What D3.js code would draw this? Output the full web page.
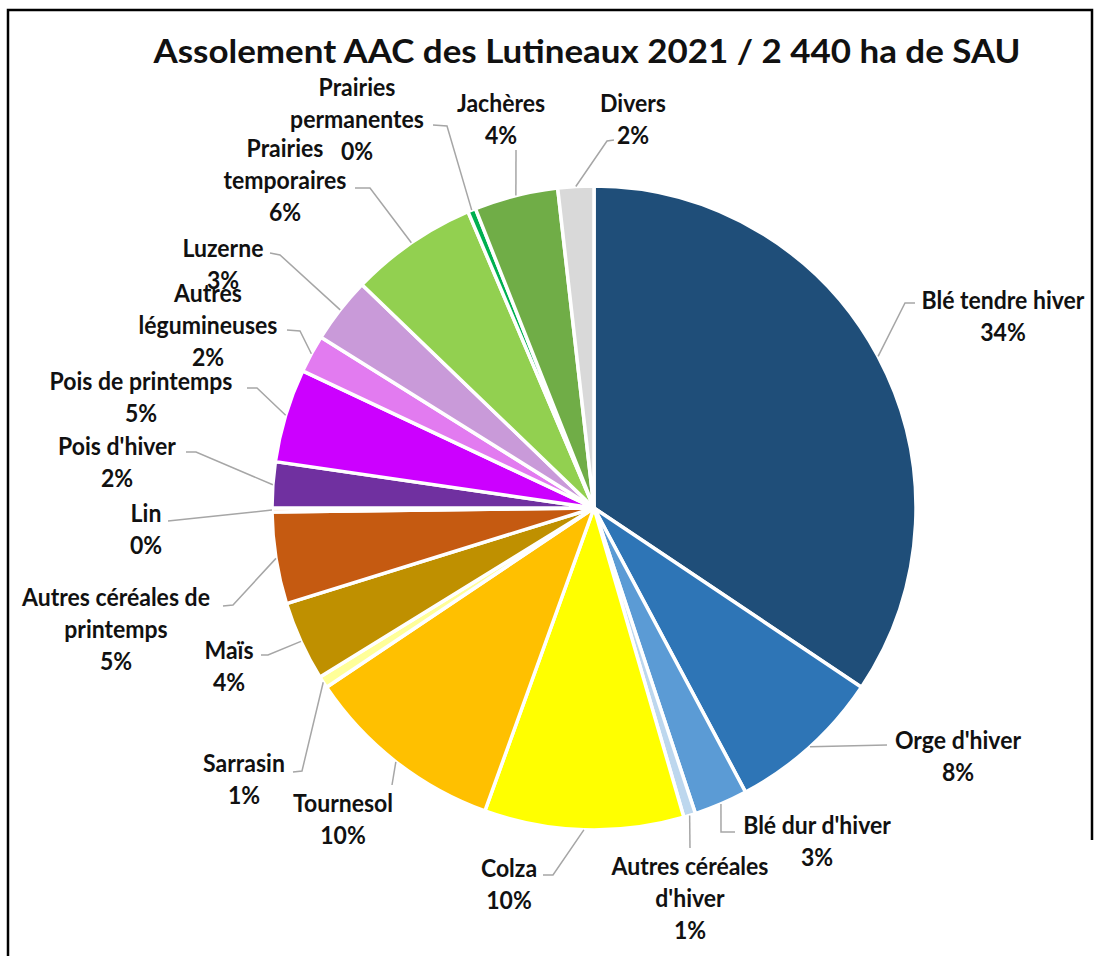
<!DOCTYPE html>
<html>
<head>
<meta charset="utf-8">
<script src="https://cdn.jsdelivr.net/npm/d3@7"></script>
<style>
  html, body { margin: 0; padding: 0; background: #fff; }
  svg { display: block; }
  text { font-family: Lato, "Open Sans", sans-serif; font-weight: bold; fill: #111; }
</style>
</head>
<body>
<svg id="chart" width="1100" height="956"></svg>
<script>
// ---------- data ----------
const title = "Assolement AAC des Lutineaux 2021 / 2 440 ha de SAU";
const categories = [
  "Blé tendre hiver", "Orge d'hiver", "Blé dur d'hiver", "Autres céréales d'hiver",
  "Colza", "Tournesol", "Sarrasin", "Maïs", "Autres céréales de printemps", "Lin",
  "Pois d'hiver", "Pois de printemps", "Autres légumineuses", "Luzerne",
  "Prairies temporaires", "Prairies permanentes", "Jachères", "Divers"
];
const labelLines = [
  ["Blé tendre hiver"], ["Orge d'hiver"], ["Blé dur d'hiver"], ["Autres céréales", "d'hiver"],
  ["Colza"], ["Tournesol"], ["Sarrasin"], ["Maïs"], ["Autres céréales de", "printemps"], ["Lin"],
  ["Pois d'hiver"], ["Pois de printemps"], ["Autres", "légumineuses"], ["Luzerne"],
  ["Prairies", "temporaires"], ["Prairies", "permanentes"], ["Jachères"], ["Divers"]
];
// share of the 2 440 ha, in %
const values = [34.4, 7.8, 2.7, 0.6, 10.0, 10.1, 0.6, 4.0, 4.6, 0.2, 2.3, 4.7, 1.9, 3.3, 6.4, 0.4, 4.2, 1.8];
const colors = [
  "#1F4E79", "#2E75B6", "#5B9BD5", "#BDD7EE", "#FFFF00", "#FFC000", "#FFFF99", "#BF9000",
  "#C55A11", "#F4B183", "#7030A0", "#CC00FF", "#E27BF0", "#C99AD9", "#92D050", "#00B050",
  "#70AD47", "#D9D9D9"
];

// ---------- layout (label anchors & leader bends) ----------
const labelLayout = [
  {x: 1003, y: 300, pts: [[905, 303], [915, 303]]},
  {x: 958,  y: 740, pts: [[887, 745]]},
  {x: 817,  y: 825, pts: [[721, 832], [735, 832]]},
  {x: 690,  y: 866, pts: [[690, 848]]},
  {x: 509,  y: 868, pts: [[553, 875], [543, 875]]},
  {x: 343,  y: 803, pts: [[392, 785]]},
  {x: 244,  y: 763, pts: [[302, 771], [293, 772]]},
  {x: 229,  y: 650, pts: [[268, 655], [261, 655]]},
  {x: 116,  y: 597, pts: [[233, 605], [223, 606]]},
  {x: 146,  y: 513, pts: [[168, 521]]},
  {x: 117,  y: 446, pts: [[196, 452], [186, 452]]},
  {x: 141,  y: 381, pts: [[257, 388], [247, 388]]},
  {x: 208,  y: 293, pts: [[300, 331], [287, 330]]},
  {x: 223,  y: 248, pts: [[280, 255], [270, 253]]},
  {x: 285,  y: 148, pts: [[370, 188], [355, 188]]},
  {x: 357,  y: 87,  pts: [[447, 126], [433, 125]]},
  {x: 501,  y: 103, pts: [[516, 150]]},
  {x: 633,  y: 103, pts: [[607, 141], [614, 140]]}
];

const W = 1100, H = 956;
const cx = 594, cy = 508, R = 322;
const fontSize = 25, lineH = 32, squeeze = 0.92;

const svg = d3.select("#chart");

// frame
svg.append("path")
  .attr("d", `M8,${H} L8,10 L1092,10 L1092,840`)
  .attr("fill", "none").attr("stroke", "#000").attr("stroke-width", 2.5);

// title
svg.append("text")
  .attr("x", 587).attr("y", 63)
  .attr("text-anchor", "middle")
  .attr("font-size", 33)
  .attr("textLength", 867).attr("lengthAdjust", "spacingAndGlyphs")
  .text(title);

const pie = d3.pie().sort(null).value(d => d).startAngle(0).endAngle(2 * Math.PI);
const arcs = pie(values);
const arc = d3.arc().innerRadius(0).outerRadius(R);

const g = svg.append("g").attr("transform", `translate(${cx},${cy})`);
g.selectAll("path.slice")
  .data(arcs)
  .join("path")
  .attr("class", "slice")
  .attr("d", arc)
  .attr("fill", (d, i) => colors[i])
  .attr("stroke", "#fff")
  .attr("stroke-width", 3.5)
  .attr("stroke-linejoin", "round");

// leader lines
const line = d3.line();
arcs.forEach((a, i) => {
  const mid = (a.startAngle + a.endAngle) / 2;
  const start = [cx + R * Math.sin(mid), cy - R * Math.cos(mid)];
  const L = labelLayout[i];
  svg.append("path")
    .attr("d", line([start, ...L.pts]))
    .attr("fill", "none")
    .attr("stroke", "#A6A6A6")
    .attr("stroke-width", 1.5);
});

// labels
arcs.forEach((a, i) => {
  const L = labelLayout[i];
  const lines = labelLines[i].concat([Math.round(values[i]) + "%"]);
  const t = svg.append("text")
    .attr("text-anchor", "middle")
    .attr("font-size", fontSize);
  lines.forEach((s, k) => {
    const ts = t.append("tspan")
      .attr("x", L.x)
      .attr("y", L.y + k * lineH + fontSize * 0.36)
      .text(s);
    const w = ts.node().getComputedTextLength();
    ts.attr("textLength", w * squeeze).attr("lengthAdjust", "spacingAndGlyphs");
  });
});
</script>
</body>
</html>
